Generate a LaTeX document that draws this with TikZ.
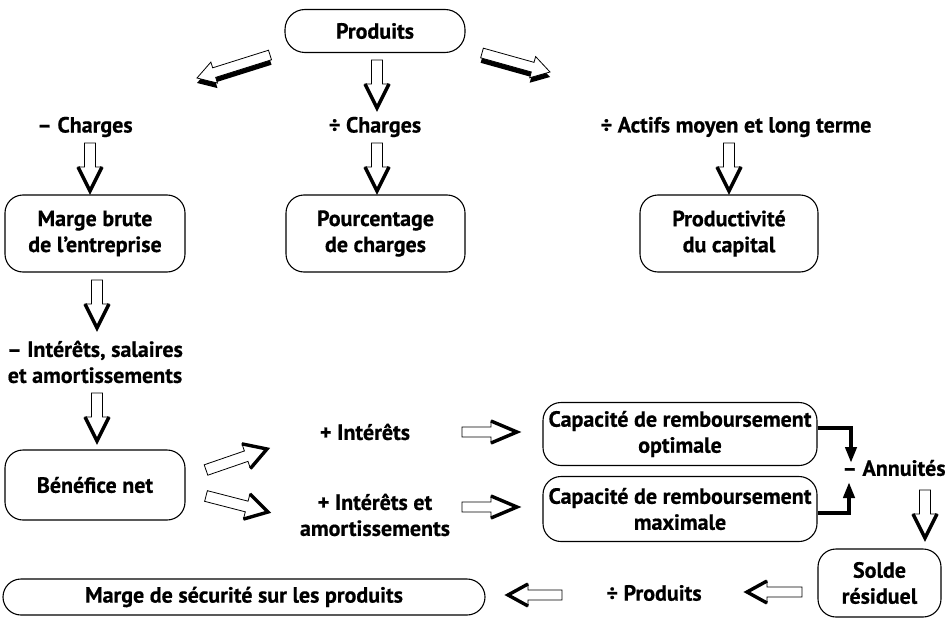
\documentclass[tikz,border=0pt]{standalone}
\usepackage{fontspec}
\setmainfont{PT Sans}[BoldFeatures={FakeBold=0.6}]
\usetikzlibrary{calc,arrows.meta}
\tikzset{
  box/.style={draw, line width=1.1pt, rounded corners=18pt, align=center, inner sep=0pt},
  lbl/.style={align=center, inner sep=0pt},
  every node/.style={font=\fontsize{22}{26}\selectfont\bfseries},
  thinout/.style={draw, fill=white, line width=0.8pt, line join=miter},
  heavy/.style={line width=3.4pt, line join=miter, line cap=butt},
  conn/.style={line width=4.5pt, -{Triangle[length=16pt,width=11pt]}},
}
% block arrow with thick head edges: #1 from, #2 to, #3 shaft half width, #4 head half width, #5 head length
\newcommand\barrow[5]{%
  \coordinate (bj) at ($(#2)!#5!(#1)$);
  \draw[thinout] ($(#1)!#3!90:(#2)$) -- ($(bj)!#3!90:(#2)$) -- ($(bj)!#4!90:(#2)$) -- (#2)
     -- ($(bj)!#4!-90:(#2)$) -- ($(bj)!#3!-90:(#2)$) -- ($(#1)!#3!-90:(#2)$) -- cycle;
  \draw[heavy] ($(bj)!#4!90:(#2)$) -- (#2) -- ($(bj)!#4!-90:(#2)$);
}
% block arrow with drop shadow
\newcommand\sarrow[5]{%
  \coordinate (bj) at ($(#2)!#5!(#1)$);
  \begin{scope}[transform canvas={yshift=-5pt}]
  \fill[black] ($(#1)!#3!90:(#2)$) -- ($(bj)!#3!90:(#2)$) -- ($(bj)!#4!90:(#2)$) -- (#2)
     -- ($(bj)!#4!-90:(#2)$) -- ($(bj)!#3!-90:(#2)$) -- ($(#1)!#3!-90:(#2)$) -- cycle;
  \end{scope}
  \draw[thinout] ($(#1)!#3!90:(#2)$) -- ($(bj)!#3!90:(#2)$) -- ($(bj)!#4!90:(#2)$) -- (#2)
     -- ($(bj)!#4!-90:(#2)$) -- ($(bj)!#3!-90:(#2)$) -- ($(#1)!#3!-90:(#2)$) -- cycle;
}
\begin{document}
\begin{tikzpicture}[x=1pt,y=-1pt]
\useasboundingbox (0,0) rectangle (945,618);

% boxes
\node[box, minimum width=180pt, minimum height=43pt, rounded corners=20pt] (prod) at (375,31) {Produits};
\node[box, minimum width=180pt, minimum height=77pt] (marge) at (95,233.5) {Marge brute\\de l’entreprise};
\node[box, minimum width=179pt, minimum height=77pt] (pourc) at (375.5,233.5) {Pourcentage\\de charges};
\node[box, minimum width=178pt, minimum height=77pt] (prodc) at (729,233.5) {Productivité\\du capital};
\node[box, minimum width=180pt, minimum height=70pt] (benef) at (95,485) {Bénéfice net};
\node[box, minimum width=274pt, minimum height=63pt] (capo) at (680,434) {Capacité de remboursement\\optimale};
\node[box, minimum width=274pt, minimum height=65pt] (capm) at (680,509) {Capacité de remboursement\\maximale};
\node[box, minimum width=123pt, minimum height=68pt] (solde) at (879.5,583) {Solde\\résiduel};
\node[box, minimum width=482pt, minimum height=36pt, rounded corners=18pt] (secu) at (244,597) {Marge de sécurité sur les produits};

% labels
\node[lbl] (chm) at (85,127) {– Charges};
\node[lbl] (chd) at (375,127) {÷ Charges};
\node[lbl] (act) at (736,127) {÷ Actifs moyen et long terme};
\node[lbl] (isa) at (95,362) {– Intérêts, salaires\\et amortissements};
\node[lbl] (pint) at (365,432) {+ Intérêts};
\node[lbl] (pia) at (375,515) {+ Intérêts et\\amortissements};
\node[lbl] (ann) at (894,468) {– Annuités};
\node[lbl] (dprod) at (654,593) {÷ Produits};

% arrow end coordinates
\coordinate (a0s) at (377,60);  \coordinate (a0e) at (377,108);
\coordinate (dls) at (270,55);  \coordinate (dle) at (197,78);
\coordinate (drs) at (482,53);  \coordinate (dre) at (550,72);
\coordinate (c1s) at (90,143);  \coordinate (c1e) at (90,191);
\coordinate (c2s) at (377,143); \coordinate (c2e) at (377,191);
\coordinate (c3s) at (729,143); \coordinate (c3e) at (729,191);
\coordinate (m1s) at (97,280);  \coordinate (m1e) at (97,328);
\coordinate (m2s) at (97,393);  \coordinate (m2e) at (97,441);
\coordinate (b1s) at (206,470); \coordinate (b1e) at (267,449);
\coordinate (b2s) at (206,496); \coordinate (b2e) at (268,512);
\coordinate (r1s) at (462,432); \coordinate (r1e) at (517,432);
\coordinate (r2s) at (462,507); \coordinate (r2e) at (517,507);
\coordinate (ans) at (925,490); \coordinate (ane) at (925,538);
\coordinate (l1s) at (802,592); \coordinate (l1e) at (747,592);
\coordinate (l2s) at (562,595); \coordinate (l2e) at (508,595);

\barrow{a0s}{a0e}{5.5pt}{12pt}{24pt}
\sarrow{dls}{dle}{5pt}{11pt}{18pt}
\sarrow{drs}{dre}{5pt}{11pt}{18pt}
\barrow{c1s}{c1e}{5.5pt}{12pt}{24pt}
\barrow{c2s}{c2e}{5.5pt}{12pt}{24pt}
\barrow{c3s}{c3e}{5.5pt}{12pt}{24pt}
\barrow{m1s}{m1e}{5.5pt}{12pt}{24pt}
\barrow{m2s}{m2e}{5.5pt}{12pt}{24pt}
\barrow{b1s}{b1e}{5.5pt}{13pt}{22pt}
\barrow{b2s}{b2e}{5.5pt}{13pt}{22pt}
\barrow{r1s}{r1e}{5pt}{11pt}{26pt}
\barrow{r2s}{r2e}{5pt}{11pt}{26pt}
\barrow{ans}{ane}{5.5pt}{12pt}{24pt}
\barrow{l1s}{l1e}{5pt}{11pt}{20pt}
\barrow{l2s}{l2e}{5pt}{11pt}{20pt}

% annuities connectors
\coordinate (k1) at (851,428);
\coordinate (k1e) at (851,463);
\coordinate (k2) at (849,513);
\coordinate (k2e) at (849,482);
\draw[conn] ($(capo.east)+(0,-6)$) -- (k1) -- (k1e);
\draw[conn] ($(capm.east)+(0,4)$) -- (k2) -- (k2e);
\end{tikzpicture}
\end{document}
